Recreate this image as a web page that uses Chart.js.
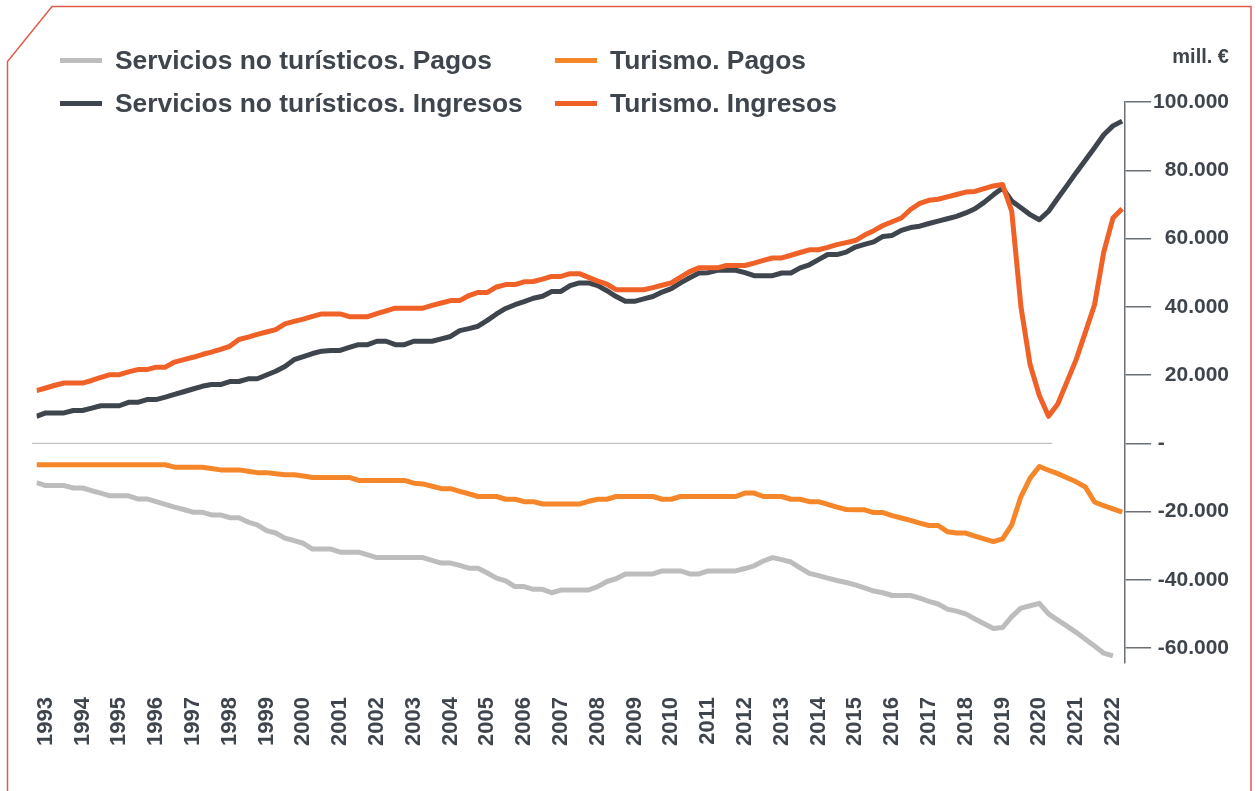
<!DOCTYPE html>
<html lang="es">
<head>
<meta charset="utf-8">
<title>Servicios turísticos y no turísticos</title>
<script src="https://cdn.jsdelivr.net/npm/chart.js@4.4.1/dist/chart.umd.min.js"></script>
<style>
    html, body { margin: 0; padding: 0; background: #fff; }
    #wrap { position: relative; width: 1256px; height: 791px; font-family: "Liberation Sans", Arial, sans-serif; color: #3f454c; }
    #chart { position: absolute; left: 0; top: 0; }
    #legend { position: absolute; left: 60px; top: 39px; display: grid; grid-template-columns: 495px auto; }
    .item { display: flex; align-items: center; height: 43px; font-weight: bold; font-size: 26.4px; white-space: nowrap; }
    .swatch { width: 42px; height: 5px; margin-right: 13px; }
    #unit { position: absolute; right: 27px; top: 44px; font-size: 20px; font-weight: bold; line-height: 24px; }
</style>
</head>
<body>
<div id="wrap">
    <canvas id="chart" width="1256" height="791"></canvas>
    <div id="legend"></div>
    <div id="unit">mill. €</div>
</div>
<script>
// mill. € - datos trimestrales, un punto por trimestre
const years = [1993, 1994, 1995, 1996, 1997, 1998, 1999, 2000, 2001, 2002, 2003, 2004, 2005, 2006, 2007,
    2008, 2009, 2010, 2011, 2012, 2013, 2014, 2015, 2016, 2017, 2018, 2019, 2020, 2021, 2022];

const yTicks = [-60000, -40000, -20000, 0, 20000, 40000, 60000, 80000, 100000];

const servPagos = [
    -11500, -12400, -12400, -12400, -13100, -13100, -13900, -14600, -15400, -15400, -15400, -16300,
    -16300, -17100, -17900, -18700, -19400, -20200, -20200, -21000, -21000, -21800, -21800, -23100,
    -23900, -25600, -26300, -27800, -28500, -29300, -31000, -31000, -31000, -31900, -31900, -31900,
    -32700, -33500, -33500, -33500, -33500, -33500, -33500, -34300, -35100, -35100, -35800, -36600,
    -36600, -38000, -39500, -40300, -42000, -42000, -42800, -42800, -43800, -43000, -43000, -43000,
    -43000, -42000, -40500, -39700, -38300, -38300, -38300, -38300, -37400, -37400, -37400, -38300,
    -38300, -37400, -37400, -37400, -37400, -36700, -35900, -34500, -33500, -34100, -34800, -36500,
    -38100, -38800, -39500, -40200, -40800, -41500, -42400, -43300, -43800, -44600, -44600, -44600,
    -45400, -46300, -47100, -48600, -49200, -50000, -51500, -52900, -54300, -54000, -50800, -48300,
    -47600, -46900, -50000, -51800, -53600, -55400, -57400, -59400, -61500, -62300, null
];

const servIngresos = [
    7900, 8900, 8900, 8900, 9600, 9600, 10300, 11000, 11000, 11000, 12000, 12000,
    12800, 12800, 13500, 14300, 15100, 15900, 16700, 17200, 17200, 18100, 18100, 18900,
    18900, 20000, 21100, 22500, 24500, 25400, 26300, 27000, 27200, 27200, 28100, 28900,
    28900, 29900, 29900, 28900, 28900, 29900, 29900, 29900, 30600, 31300, 33000, 33600,
    34300, 36000, 37900, 39500, 40600, 41500, 42500, 43100, 44500, 44500, 46200, 47000,
    47000, 46200, 44700, 43000, 41600, 41600, 42300, 43000, 44300, 45300, 47000, 48500,
    49900, 50000, 50700, 50700, 50700, 50000, 49100, 49100, 49100, 49900, 49900, 51400,
    52300, 53800, 55300, 55300, 56000, 57500, 58300, 59000, 60600, 60900, 62400, 63200,
    63600, 64400, 65100, 65800, 66500, 67500, 68700, 70600, 72800, 74800, 71000, 69000,
    67000, 65500, 68000, 71800, 75500, 79300, 82900, 86600, 90400, 93000, 94400
];

const turPagos = [
    -6300, -6300, -6300, -6300, -6300, -6300, -6300, -6300, -6300, -6300, -6300, -6300,
    -6300, -6300, -6300, -7000, -7000, -7000, -7000, -7400, -7800, -7800, -7800, -8200,
    -8600, -8600, -8900, -9200, -9200, -9600, -10000, -10000, -10000, -10000, -10000, -10900,
    -10900, -10900, -10900, -10900, -10900, -11700, -11900, -12600, -13300, -13300, -14100, -14800,
    -15600, -15600, -15600, -16400, -16400, -17100, -17100, -17800, -17800, -17800, -17800, -17800,
    -17000, -16400, -16400, -15600, -15600, -15600, -15600, -15600, -16400, -16400, -15600, -15600,
    -15600, -15600, -15600, -15600, -15600, -14600, -14600, -15600, -15600, -15600, -16400, -16400,
    -17100, -17100, -17900, -18700, -19400, -19500, -19500, -20300, -20300, -21200, -21900, -22600,
    -23400, -24100, -24100, -25900, -26300, -26300, -27200, -28000, -28800, -28000, -23900, -15600,
    -10200, -6800, -7900, -8900, -10100, -11300, -12800, -17200, -18300, -19200, -20200
];

const turIngresos = [
    15400, 16200, 17000, 17650, 17650, 17650, 18400, 19300, 20100, 20100, 20900, 21600,
    21600, 22300, 22300, 23800, 24500, 25200, 26000, 26700, 27500, 28400, 30400, 31100,
    31900, 32600, 33300, 35000, 35700, 36400, 37200, 37900, 37900, 37900, 37100, 37100,
    37100, 38000, 38800, 39600, 39600, 39600, 39600, 40400, 41100, 41800, 41800, 43300,
    44200, 44200, 45800, 46500, 46500, 47300, 47400, 48100, 48900, 48900, 49700, 49700,
    48600, 47500, 46600, 45000, 45000, 45000, 45000, 45600, 46300, 47000, 48700, 50300,
    51400, 51400, 51400, 52100, 52100, 52100, 52800, 53600, 54300, 54300, 55100, 55900,
    56700, 56700, 57400, 58200, 58800, 59400, 61000, 62300, 63800, 64900, 66000, 68500,
    70300, 71200, 71500, 72200, 72900, 73600, 73800, 74600, 75400, 75800, 68000, 40000,
    23000, 14000, 7900, 11500, 18000, 24500, 32500, 40600, 56000, 66000, 68700
];

const textColor = '#3f454c';
const axisColor = '#6b7077';
const fontFamily = '"Liberation Sans", Arial, sans-serif';

const toPoints = (arr) => arr.map((v, i) => ({ x: i, y: v }));

const formatTick = (v) => {
    if (v === 0) return '-' + ' '.repeat(11);
    const s = String(Math.abs(v)).replace(/\B(?=(\d{3})+(?!\d))/g, '.');
    return (v < 0 ? '-' : '') + s;
};

const series = [
    { label: 'Turismo. Ingresos', data: turIngresos, color: '#ef6127' },
    { label: 'Servicios no turísticos. Ingresos', data: servIngresos, color: '#3f454c' },
    { label: 'Turismo. Pagos', data: turPagos, color: '#f5862a' },
    { label: 'Servicios no turísticos. Pagos', data: servPagos, color: '#bdbdbd' },
];

// marco rojo con la esquina cortada
const framePlugin = {
    id: 'frame',
    beforeDraw(chart) {
        const ctx = chart.ctx;
        const w = chart.width, h = chart.height;
        ctx.save();
        ctx.strokeStyle = '#e35b4d';
        ctx.lineWidth = 1.5;
        ctx.beginPath();
        ctx.moveTo(7.5, h);
        ctx.lineTo(7.5, 61.5);
        ctx.lineTo(52, 6.5);
        ctx.lineTo(w - 5, 6.5);
        ctx.lineTo(w - 5, h);
        ctx.stroke();
        ctx.restore();
    }
};

const zeroLinePlugin = {
    id: 'zeroLine',
    beforeDatasetsDraw(chart) {
        const { ctx, chartArea, scales } = chart;
        const y = scales.y.getPixelForValue(0);
        ctx.save();
        ctx.strokeStyle = '#c2c2c2';
        ctx.lineWidth = 1.2;
        ctx.beginPath();
        ctx.moveTo(chartArea.left - 4.5, y);
        ctx.lineTo(scales.x.getPixelForValue(110.4), y);
        ctx.stroke();
        ctx.restore();
    }
};

const ctx = document.getElementById('chart').getContext('2d');

const chart = new Chart(ctx, {
    type: 'line',
    data: {
        datasets: series.map((s) => ({
            label: s.label,
            data: toPoints(s.data),
            borderColor: s.color,
            backgroundColor: s.color,
            borderWidth: 5,
            pointRadius: 0,
            tension: 0,
            fill: false,
            borderJoinStyle: 'round',
        }))
    },
    options: {
        responsive: false,
        animation: false,
        layout: { padding: { left: 36.5, right: 27, top: 102, bottom: 11 } },
        plugins: {
            legend: { display: false },
            tooltip: { enabled: false },
        },
        scales: {
            x: {
                type: 'linear',
                min: 0,
                max: 118.32,
                grid: { display: false, drawTicks: false },
                border: { display: false },
                afterBuildTicks: (scale) => {
                    scale.ticks = years.map((y, k) => ({ value: 1 + 4 * k }));
                },
                ticks: {
                    autoSkip: false,
                    minRotation: 90,
                    maxRotation: 90,
                    padding: 34,
                    color: textColor,
                    font: { family: fontFamily, weight: 'bold', size: 22 },
                    callback: (value) => years[(value - 1) / 4],
                }
            },
            y: {
                type: 'linear',
                position: 'right',
                min: -64400,
                max: 100000,
                border: { display: true, color: axisColor, width: 1.5 },
                grid: { drawOnChartArea: false, drawTicks: true, tickLength: 26, color: axisColor, lineWidth: 1.5 },
                afterBuildTicks: (scale) => {
                    scale.ticks = yTicks.map((v) => ({ value: v }));
                },
                ticks: {
                    crossAlign: 'far',
                    padding: 1,
                    color: textColor,
                    font: { family: fontFamily, weight: 'bold', size: 21 },
                    callback: (value) => formatTick(value),
                }
            }
        }
    },
    plugins: [framePlugin, zeroLinePlugin]
});

// leyenda en dos columnas, como en el original
const legendOrder = [3, 2, 1, 0];
const legend = document.getElementById('legend');
for (const idx of legendOrder) {
    const s = series[idx];
    const item = document.createElement('div');
    item.className = 'item';
    const sw = document.createElement('span');
    sw.className = 'swatch';
    sw.style.background = s.color;
    const txt = document.createElement('span');
    txt.textContent = s.label;
    item.appendChild(sw);
    item.appendChild(txt);
    legend.appendChild(item);
}
</script>
</body>
</html>
